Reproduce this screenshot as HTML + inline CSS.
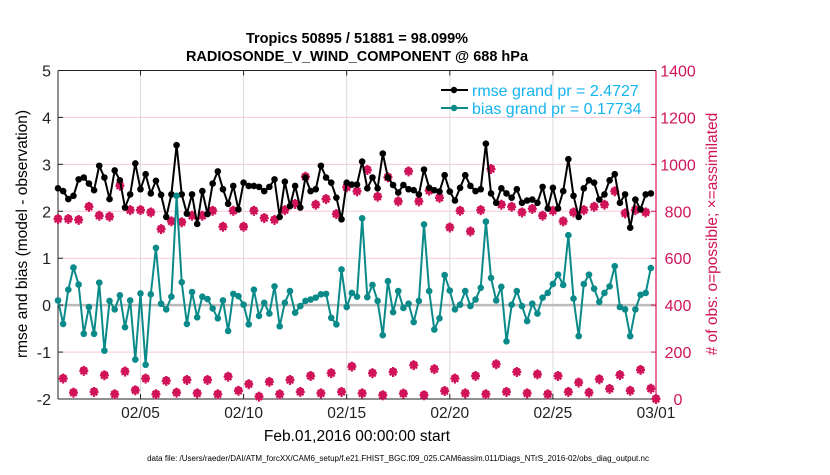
<!DOCTYPE html>
<html><head><meta charset="utf-8"><style>
html,body{margin:0;padding:0;background:#fff;}
svg text{font-family:"Liberation Sans",Arial,sans-serif;}
</style></head><body>
<svg id="chart" width="830" height="470" viewBox="0 0 830 470" xmlns="http://www.w3.org/2000/svg">
<rect width="830" height="470" fill="#fff"/>
<text x="357" y="43" text-anchor="middle" font-size="14.5" font-weight="bold">Tropics 50895 / 51881 = 98.099%</text>
<text x="357" y="61" text-anchor="middle" font-size="14.5" font-weight="bold">RADIOSONDE_V_WIND_COMPONENT @ 688 hPa</text>
<g id="grid"></g>
<g id="axes"></g>
<g id="series"></g>
<g>
<line x1="441" y1="90" x2="468" y2="90" stroke="#000" stroke-width="2"/><circle cx="454" cy="90" r="3.2" fill="#000"/>
<text x="472" y="96" font-size="16" fill="#14b4f0">rmse grand pr = 2.4727</text>
<line x1="441" y1="108" x2="468" y2="108" stroke="#0b8a8a" stroke-width="2"/><circle cx="454" cy="108" r="3.2" fill="#0b8a8a"/>
<text x="472" y="114" font-size="16" fill="#14b4f0">bias grand pr = 0.17734</text>
</g>
<text transform="translate(27,234) rotate(-90)" text-anchor="middle" font-size="15.5">rmse and bias (model - observation)</text>
<text transform="translate(717,234) rotate(-90)" text-anchor="middle" font-size="15.5" fill="#d1145a"># of obs: o=possible; ×=assimilated</text>
<text x="357" y="441" text-anchor="middle" font-size="15.5">Feb.01,2016 00:00:00 start</text>
<text x="398" y="461" text-anchor="middle" font-size="8">data file: /Users/raeder/DAI/ATM_forcXX/CAM6_setup/f.e21.FHIST_BGC.f09_025.CAM6assim.011/Diags_NTrS_2016-02/obs_diag_output.nc</text>
</svg>
<script>
const rmse = [2.49,2.43,2.26,2.33,2.68,2.72,2.59,2.45,2.97,2.72,2.26,2.87,2.66,2.08,2.36,3.02,2.47,2.79,2.38,2.65,2.35,1.88,2.36,3.41,2.36,1.95,2.36,1.73,2.43,1.94,2.59,
2.85,2.47,2.16,2.54,2.04,2.61,2.54,2.54,2.52,2.43,2.52,2.68,1.88,2.63,2.11,2.54,2.08,2.72,2.43,2.47,2.97,2.72,2.61,2.29,1.83,2.61,2.57,2.57,3.06,
2.49,2.72,2.49,3.23,2.72,2.56,2.40,2.56,2.47,2.45,2.36,2.89,2.50,2.45,2.42,2.77,2.42,2.23,2.50,2.77,2.54,2.43,2.47,3.44,2.38,2.18,2.49,2.38,2.29,
2.47,2.18,2.23,2.25,2.18,2.52,2.06,2.50,2.06,2.43,3.11,2.33,1.88,2.49,2.66,2.61,2.25,2.36,2.66,2.79,2.18,2.36,1.65,2.25,2.04,2.36,2.38];
const bias = [0.10,-0.40,0.33,0.80,0.44,-0.61,-0.04,-0.61,0.48,-0.97,0.09,-0.09,0.21,-0.47,0.10,-1.16,0.25,-1.27,0.23,1.22,0.03,-0.09,0.18,2.33,0.49,-0.40,0.28,-0.26,0.18,0.13,-0.07,
-0.28,0.10,-0.55,0.24,0.19,0.01,-0.41,0.33,-0.23,0.05,-0.18,0.40,-0.45,0.05,0.30,-0.16,-0.02,0.09,0.12,0.16,0.23,0.24,-0.27,-0.41,0.76,-0.04,0.26,0.18,1.85,
0.17,0.43,0.09,-0.64,0.51,-0.15,0.30,-0.06,0.03,-0.36,0.09,1.72,0.30,-0.52,-0.28,0.64,0.31,-0.09,0.01,0.30,-0.02,0.12,0.37,1.78,0.58,0.10,0.39,-0.77,0.01,
0.30,-0.02,-0.34,0.03,-0.18,0.16,0.26,0.45,0.65,0.43,1.49,0.14,-0.66,0.45,0.65,0.35,0.07,0.26,0.40,0.83,-0.04,-0.09,-0.66,-0.09,0.22,0.26,0.79];
const obsHigh = [767,767,763,819,781,777,909,805,805,795,724,757,753,781,781,802,
734,802,734,802,771,763,805,831,947,828,852,788,902,885,
976,862,945,842,970,842,888,857,731,802,714,805,980,828,819,
795,810,781,802,757,795,805,819,828,885,791,805,795,0];
const obsLow = [87,27,120,30,101,20,117,37,87,20,77,27,81,24,81,20,95,35,63,10,73,20,81,30,98,24,110,30,138,24,
110,16,115,23,144,16,127,34,87,24,98,20,148,30,115,24,105,20,98,30,70,27,84,43,102,35,124,44];
const leftTicks = [-2,-1,0,1,2,3,4,5];
const rightTicks = [0,200,400,600,800,1000,1200,1400];
const dayTicks = [4,9,14,19,24,29];
const dayLabels = ["02/05","02/10","02/15","02/20","02/25","03/01"];

const NS="http://www.w3.org/2000/svg";
const X0=58,X1=656,Y0=70.5,Y1=399;
function xDay(d){return X0+(X1-X0)*d/29;}
function xIdx(i){return xDay(i/4);}
function yL(v){return Y1-(v+2)/7*(Y1-Y0);}
function yR(v){return Y1-v/1400*(Y1-Y0);}
function mk(tag,attrs,parent){const e=document.createElementNS(NS,tag);for(const k in attrs)e.setAttribute(k,attrs[k]);parent.appendChild(e);return e;}
const grid=document.getElementById('grid'),axes=document.getElementById('axes'),ser=document.getElementById('series');

rightTicks.forEach(function(t){
  const y=yR(t);
  if(t>0&&t<1400){const g=mk('line',{x1:X0,x2:X1,y1:y,y2:y,stroke:'#f7c9da','stroke-width':1},grid);
  
  }
  mk('line',{x1:X1-5,x2:X1,y1:y,y2:y,stroke:'#d1145a','stroke-width':1},axes);
  const tx=mk('text',{x:678,y:y+6,'text-anchor':'middle','font-size':16,fill:'#d1145a'},axes);
  tx.textContent=t;
  
  
});
dayTicks.forEach(function(d,i){
  const x=xDay(d);
  if(d<29){const g=mk('line',{x1:x,x2:x,y1:Y0,y2:Y1,stroke:'#dcdcdc','stroke-width':1},grid);
  
  }
  mk('line',{x1:x,x2:x,y1:Y1,y2:Y1-5,stroke:'#222','stroke-width':1},axes);
  mk('line',{x1:x,x2:x,y1:Y0,y2:Y0+5,stroke:'#222','stroke-width':1},axes);
  const tx=mk('text',{x:x,y:418,'text-anchor':'middle','font-size':15.5,fill:'#222'},axes);
  tx.textContent=dayLabels[i];
  
  
});
const zl=mk('line',{x1:X0,x2:X1,y1:yL(0),y2:yL(0),stroke:'#bbbbbb','stroke-width':2.5},grid);


leftTicks.forEach(function(t){
  const y=yL(t);
  mk('line',{x1:X0,x2:X0+5,y1:y,y2:y,stroke:'#222','stroke-width':1},axes);
  const tx=mk('text',{x:51,y:y+6,'text-anchor':'end','font-size':16,fill:'#222'},axes);
  tx.textContent=t;
  
  
});
mk('line',{x1:X0,x2:X1,y1:Y0,y2:Y0,stroke:'#222','stroke-width':1},axes);
mk('line',{x1:X0,x2:X1,y1:Y1,y2:Y1,stroke:'#222','stroke-width':1},axes);
mk('line',{x1:X0,x2:X0,y1:Y0,y2:Y1,stroke:'#222','stroke-width':1},axes);
mk('line',{x1:X1,x2:X1,y1:Y0,y2:Y1,stroke:'#d1145a','stroke-width':1.2},axes);

function drawObs(v,i){
  const x=xIdx(i),y=yR(v);
  const g=mk('g',{stroke:'#d1145a','stroke-width':2.2,fill:'#d1145a'},ser);
  
  
  mk('circle',{cx:x,cy:y-0.5,r:2.8},g);
  mk('line',{x1:x-4.5,x2:x+4.5,y1:y,y2:y},g);
  mk('line',{x1:x,x2:x,y1:y-5,y2:y+5},g);
  mk('line',{x1:x-3.3,x2:x+3.3,y1:y-3.3,y2:y+3.3},g);
  mk('line',{x1:x-3.3,x2:x+3.3,y1:y+3.3,y2:y-3.3},g);
}
obsHigh.forEach(function(v,k){drawObs(v,2*k);});
obsLow.forEach(function(v,k){drawObs(v,2*k+1);});

function drawLine(arr,color,name){
  const pts=arr.map(function(v,i){return xIdx(i).toFixed(1)+','+yL(v).toFixed(1);}).join(' ');
  const pl=mk('polyline',{points:pts,fill:'none',stroke:color,'stroke-width':2,'stroke-linejoin':'round'},ser);
  
  
  arr.forEach(function(v,i){
    const c=mk('circle',{cx:xIdx(i),cy:yL(v),r:3.3,fill:color},ser);
    
    
  });
}
drawLine(rmse,'#000','rmse');
drawLine(bias,'#0b8a8a','bias');
</script>
</body></html>
